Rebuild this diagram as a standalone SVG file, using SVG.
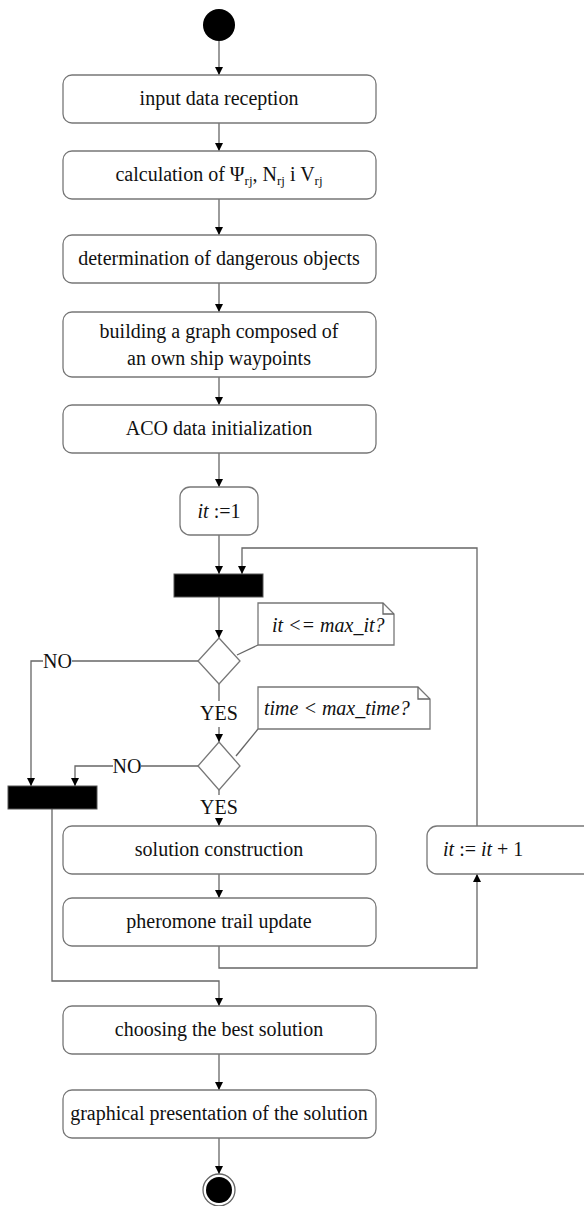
<svg xmlns="http://www.w3.org/2000/svg" width="584" height="1206" viewBox="0 0 584 1206">
<defs>
<marker id="ah" markerUnits="userSpaceOnUse" markerWidth="8" markerHeight="9" refX="8" refY="4" orient="auto" viewBox="0 0 8 8">
<path d="M0,0 L8,4 L0,8 z" fill="#000"/>
</marker>
<style>
.box{fill:#fff;stroke:#777;stroke-width:1.3}
.bar{fill:#000;stroke:#555;stroke-width:1}
.dia{fill:#fff;stroke:#777;stroke-width:1.3}
.note{fill:#fff;stroke:#777;stroke-width:1.3}
.ln{fill:none;stroke:#666;stroke-width:1.3}
.arr{fill:none;stroke:#666;stroke-width:1.3;marker-end:url(#ah)}
.t{font-family:"Liberation Serif","Times New Roman",serif;font-size:20px;fill:#111;text-anchor:middle}
.ts{font-family:"Liberation Serif","Times New Roman",serif;font-size:20px;fill:#111}
.i{font-style:italic}
.sub{font-size:13px}
</style>
</defs>
<rect width="584" height="1206" fill="#fff"/>
<g id="connectors">
<path class="arr" d="M219,41 V75"/>
<path class="arr" d="M219,123 V151"/>
<path class="arr" d="M219,199 V235"/>
<path class="arr" d="M219,283 V312"/>
<path class="arr" d="M219,377 V405"/>
<path class="arr" d="M219,453 V487"/>
<path class="arr" d="M219,535 V574"/>
<path class="arr" d="M477,826 V548 H242 V574"/>
<path class="arr" d="M219,597 V638"/>
<path class="ln" d="M258,645 L237,655"/>
<path class="ln" d="M198,661 H72"/>
<path class="arr" d="M43,661 H31 V786"/>
<path class="ln" d="M219,684 V701"/>
<path class="arr" d="M219,727 V742"/>
<path class="ln" d="M258,729 L236,756"/>
<path class="ln" d="M198,766 H141"/>
<path class="arr" d="M113,766 H75 V786"/>
<path class="ln" d="M219,789 V795"/>
<path class="arr" d="M219,818 V826"/>
<path class="arr" d="M219,874 V898"/>
<path class="arr" d="M219,946 V968 H477 V874"/>
<path class="arr" d="M52,809 V981 H219 V1006"/>
<path class="arr" d="M219,1054 V1090"/>
<path class="arr" d="M219,1138 V1174"/>
</g>
<g id="start"><circle cx="219" cy="25" r="16" fill="#000"/></g>
<g id="n1"><rect class="box" x="63" y="75" width="313" height="48" rx="9"/><text class="t" x="219" y="105">input data reception</text></g>
<g id="n2"><rect class="box" x="63" y="151" width="313" height="48" rx="9"/><text class="t" x="219" y="181">calculation of Ψ<tspan class="sub" dy="4">rj</tspan><tspan dy="-4">, N</tspan><tspan class="sub" dy="4">rj</tspan><tspan dy="-4"> i V</tspan><tspan class="sub" dy="4">rj</tspan></text></g>
<g id="n3"><rect class="box" x="63" y="235" width="313" height="48" rx="9"/><text class="t" x="219" y="265">determination of dangerous objects</text></g>
<g id="n4"><rect class="box" x="63" y="312" width="313" height="65" rx="9"/><text class="t" x="219" y="338">building a graph composed of</text><text class="t" x="219" y="365">an own ship waypoints</text></g>
<g id="n5"><rect class="box" x="63" y="405" width="313" height="48" rx="9"/><text class="t" x="219" y="435">ACO data initialization</text></g>
<g id="n6"><rect class="box" x="180" y="487" width="78" height="48" rx="10"/><text class="t" x="219" y="518"><tspan class="i">it</tspan> :=1</text></g>
<g id="fork1"><rect class="bar" x="174" y="574" width="89" height="23"/></g>
<g id="d1"><path class="dia" d="M219,638 L240,661 L219,684 L198,661 z"/></g>
<g id="note1"><path class="note" d="M258,603 H383 L394,614 V645 H258 z"/><path class="ln" d="M383,603 V614 H394"/><text class="ts i" x="272" y="632">it &lt;= max_it?</text></g>
<g id="lbl-no1"><text class="t" x="57.5" y="668">NO</text></g>
<g id="lbl-yes1"><text class="t" x="219" y="720">YES</text></g>
<g id="d2"><path class="dia" d="M219,742 L240,766 L219,790 L198,766 z"/></g>
<g id="note2"><path class="note" d="M258,687 H418 L430,699 V729 H258 z"/><path class="ln" d="M418,687 V699 H430"/><text class="ts i" x="264" y="715">time &lt; max_time?</text></g>
<g id="lbl-no2"><text class="t" x="127" y="773">NO</text></g>
<g id="lbl-yes2"><text class="t" x="219" y="814">YES</text></g>
<g id="fork2"><rect class="bar" x="8" y="786" width="89" height="23"/></g>
<g id="n7"><rect class="box" x="63" y="826" width="313" height="48" rx="9"/><text class="t" x="219" y="856">solution construction</text></g>
<g id="n8"><rect class="box" x="427" y="826" width="170" height="48" rx="10"/><text class="ts" x="443" y="856"><tspan class="i">it</tspan> := <tspan class="i">it</tspan> + 1</text></g>
<g id="n9"><rect class="box" x="63" y="898" width="313" height="48" rx="9"/><text class="t" x="219" y="928">pheromone trail update</text></g>
<g id="n10"><rect class="box" x="63" y="1006" width="313" height="48" rx="9"/><text class="t" x="219" y="1036">choosing the best solution</text></g>
<g id="n11"><rect class="box" x="63" y="1090" width="313" height="48" rx="9"/><text class="t" x="219" y="1120">graphical presentation of the solution</text></g>
<g id="end"><circle cx="219" cy="1190" r="16" fill="#fff" stroke="#666" stroke-width="1.3"/><circle cx="219" cy="1190" r="13" fill="#000"/></g>
</svg>
